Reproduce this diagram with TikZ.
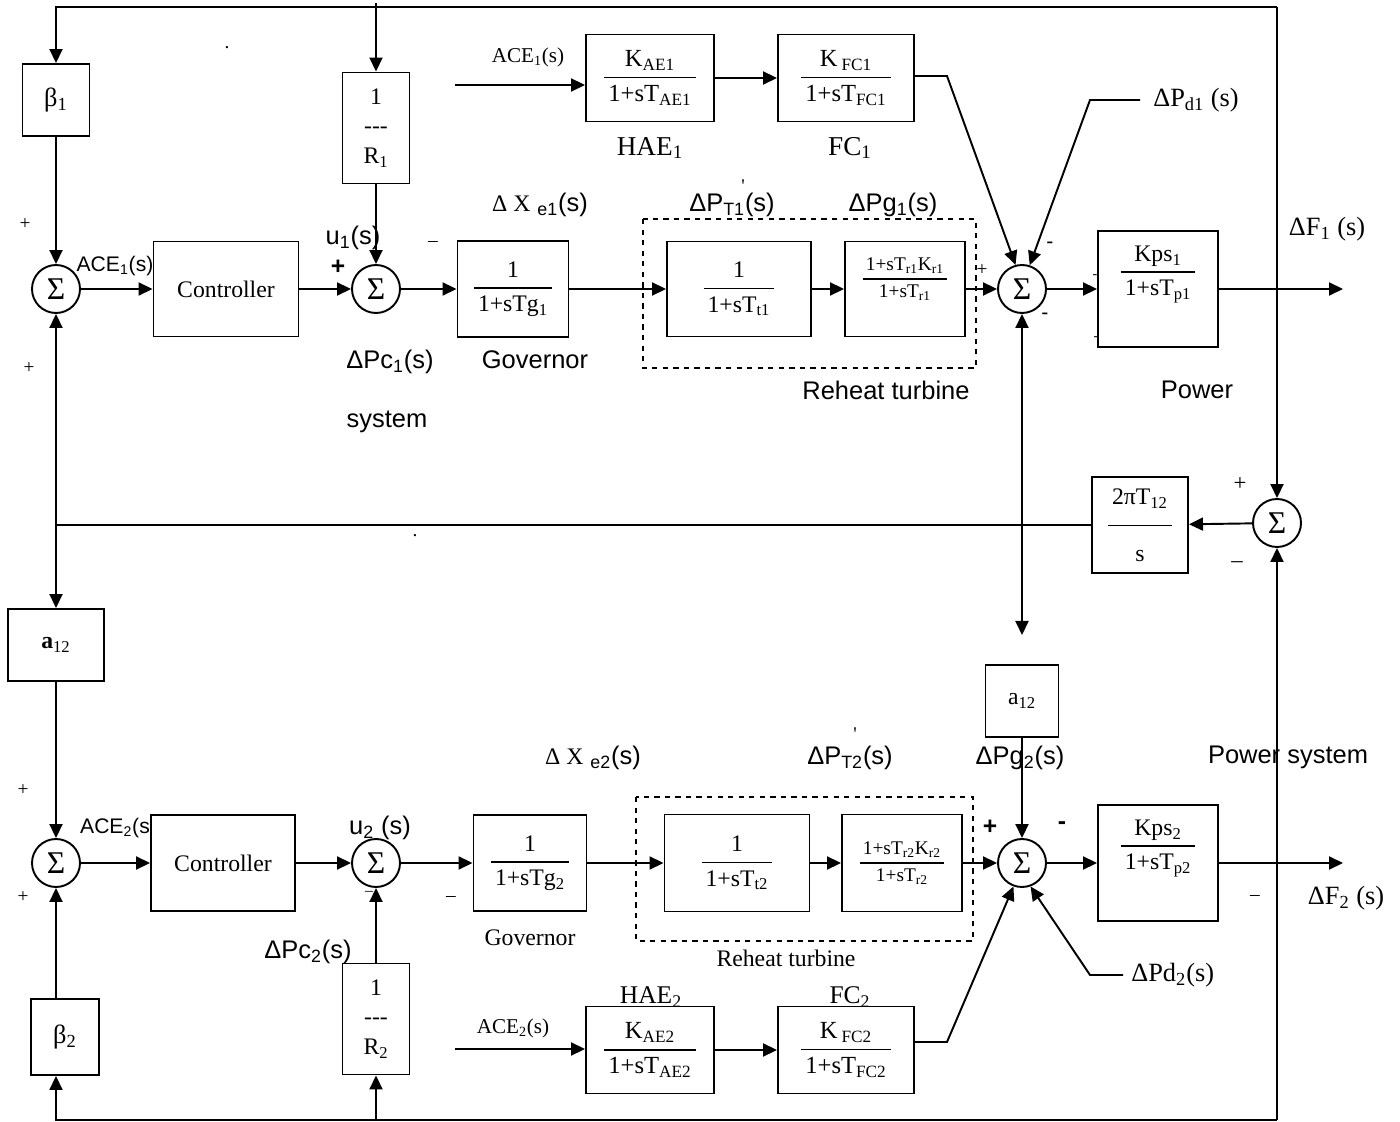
\documentclass[tikz,border=0pt]{standalone}
\usepackage{amsmath}
\usepackage{fontspec}
\setmainfont{Liberation Serif}
\setsansfont{Liberation Sans}
\usepackage{tikz}
\usetikzlibrary{arrows.meta}

\newcommand{\blkfrac}[2]{$\genfrac{}{}{0.9pt}{0}{\hbox{\,#1\,}}{\hbox{\,#2\,}}$}

\begin{document}
\begin{tikzpicture}[x=0.2mm, y=-0.2mm, >={Triangle[length=2.8mm, width=2.6mm]},
    block/.style={rectangle, draw, line width=1.1pt, fill=white, inner sep=0pt, align=center, font=\fontsize{13.5}{17}\selectfont},
    summer/.style={circle, draw, line width=1.1pt, fill=white, minimum size=9.6mm, inner sep=0pt, font=\fontsize{18}{18}\selectfont},
    arrow/.style={line width=1.1pt, ->},
    wire/.style={line width=1.1pt},
    tie/.style={line width=0.6pt},
    dashbox/.style={dashed, line width=0.8pt},
    slbl/.style={inner sep=0pt, font=\sffamily\fontsize{14.5}{16}\selectfont},
    rlbl/.style={inner sep=0pt, font=\fontsize{14.5}{16}\selectfont},
    signlbl/.style={inner sep=0pt, font=\fontsize{11}{12}\selectfont},
    boldsign/.style={inner sep=0pt, font=\sffamily\bfseries\fontsize{14}{16}\selectfont}]

    \useasboundingbox (0,0) rectangle (1400,1122);

    % Turbine frames
    \draw[dashbox] (643,219) rectangle (976,368);
    \draw[dashbox] (636,797) rectangle (973,941);

    % Labels hidden partly behind blocks
    \node[rlbl] (hae2_lbl) at (651,997) {HAE\textsubscript{2}};
    \node[rlbl] (fc2_lbl) at (850,997) {FC\textsubscript{2}};

    % Nodes, area 1
    \node[block, minimum width=13.4mm, minimum height=14.4mm, font=\fontsize{15}{17}\selectfont] (beta1) at (56,100) {β\textsubscript{1}};
    \node[summer] (sum1) at (56,289) {Σ};
    \node[block, minimum width=29mm, minimum height=19mm] (ctrl1) at (226,289) {Controller};
    \node[block, minimum width=13.4mm, minimum height=22.2mm] (r1) at (376,128) {1\\{-}{-}{-}\\R\textsubscript{1}};
    \node[summer] (sumu1) at (376,289) {Σ};
    \node[block, minimum width=22.2mm, minimum height=19.2mm] (gov1) at (513,289) {\blkfrac{1}{1+sTg\textsubscript{1}}};
    \node[block, minimum width=28.8mm, minimum height=19mm] (turb1) at (739,289) {\blkfrac{1}{1+sT\textsubscript{t1}}};
    \node[block, minimum width=24mm, minimum height=19mm, font=\fontsize{11}{13}\selectfont] (reheat1) at (905,289) {\raisebox{3pt}[0pt][0pt]{\blkfrac{1+sT\textsubscript{r1}K\textsubscript{r1}}{1+sT\textsubscript{r1}}}};
    \node[summer] (sum3) at (1022,289) {Σ};
    \node[block, minimum width=24mm, minimum height=23.2mm] (kps1) at (1158,289) {\raisebox{6pt}[0pt][0pt]{\blkfrac{Kps\textsubscript{1}}{1+sT\textsubscript{p1}}}};
    \node[block, minimum width=25.6mm, minimum height=17.4mm, font=\fontsize{14}{17}\selectfont] (hae1) at (650,78) {\blkfrac{K\textsubscript{AE1}}{1+sT\textsubscript{AE1}}};
    \node[block, minimum width=27.2mm, minimum height=17.4mm, font=\fontsize{14}{17}\selectfont] (fc1) at (846,78) {\blkfrac{K\,\textsubscript{FC1}}{1+sT\textsubscript{FC1}}};

    % Tie line
    \node[summer] (sum4) at (1277,523) {Σ};
    \node[block, minimum width=19.2mm, minimum height=19.2mm] (tiegain) at (1140,525) {\blkfrac{2πT\textsubscript{12}\rule[-9pt]{0pt}{0pt}}{\rule{0pt}{17pt}s}};
    \node[block, minimum width=19.2mm, minimum height=14.4mm] (a12l) at (56,645) {\textbf{a}\textsubscript{12}};
    \node[block, minimum width=14.6mm, minimum height=14.4mm] (a12r) at (1022,701) {a\textsubscript{12}};

    % Nodes, area 2
    \node[summer] (sum5) at (56,863) {Σ};
    \node[block, minimum width=13.6mm, minimum height=15.2mm, font=\fontsize{15}{17}\selectfont] (beta2) at (65,1037) {β\textsubscript{2}};
    \node[block, minimum width=28.8mm, minimum height=19.2mm] (ctrl2) at (223,863) {Controller};
    \node[summer] (sumu2) at (376,863) {Σ};
    \node[block, minimum width=13.4mm, minimum height=22.2mm] (r2) at (376,1019) {1\\{-}{-}{-}\\R\textsubscript{2}};
    \node[block, minimum width=22.6mm, minimum height=19.2mm] (gov2) at (530,863) {\blkfrac{1}{1+sTg\textsubscript{2}}};
    \node[block, minimum width=29mm, minimum height=19.4mm] (turb2) at (737,863) {\blkfrac{1}{1+sT\textsubscript{t2}}};
    \node[block, minimum width=24mm, minimum height=19.4mm, font=\fontsize{11}{13}\selectfont] (reheat2) at (902,863) {\blkfrac{1+sT\textsubscript{r2}K\textsubscript{r2}}{1+sT\textsubscript{r2}}};
    \node[summer] (sum7) at (1022,863) {Σ};
    \node[block, minimum width=24mm, minimum height=23.2mm] (kps2) at (1158,863) {\raisebox{6pt}[0pt][0pt]{\blkfrac{Kps\textsubscript{2}}{1+sT\textsubscript{p2}}}};
    \node[block, minimum width=25.6mm, minimum height=17.4mm, font=\fontsize{14}{17}\selectfont] (hae2) at (650,1050) {\blkfrac{K\textsubscript{AE2}}{1+sT\textsubscript{AE2}}};
    \node[block, minimum width=27.2mm, minimum height=17.4mm, font=\fontsize{14}{17}\selectfont] (fc2) at (846,1050) {\blkfrac{K\,\textsubscript{FC2}}{1+sT\textsubscript{FC2}}};

    % Disturbance inputs
    \node[rlbl, font=\fontsize{15}{17}\selectfont, anchor=west] (pd1) at (1153,100) {ΔP\textsubscript{d1} (s)};
    \node[rlbl, font=\fontsize{15}{17}\selectfont, anchor=west] (pd2) at (1131,975) {ΔPd\textsubscript{2}(s)};

    % Free ends
    \coordinate (top_l) at (56,7);
    \coordinate (top_r) at (1277,7);
    \coordinate (r1_in) at (376,3);
    \coordinate (bot_r) at (1277,1120);
    \coordinate (tie_j) at (56,525);
    \coordinate (a12r_in) at (1022,635);
    \coordinate (out1) at (1343,289);
    \coordinate (out2) at (1343,863);
    \coordinate (ace1_in) at (455,85);
    \coordinate (ace2_in) at (455,1049);
    \coordinate (fc1_bend) at (947,76);
    \coordinate (fc2_bend) at (947,1042);
    \coordinate (pd1_bend) at (1090,100);
    \coordinate (pd2_bend) at (1090,975);

    % Flows, area 1
    \draw[arrow] (top_r) -- (top_l) -- (beta1);
    \draw[arrow] (top_r) -- (sum4);
    \draw[arrow] (r1_in) -- (r1);
    \draw[arrow] (beta1) -- (sum1);
    \draw[arrow] (sum1) -- (ctrl1);
    \draw[arrow] (ctrl1) -- (sumu1);
    \draw[arrow] (r1) -- (sumu1);
    \draw[arrow] (sumu1) -- (gov1);
    \draw[arrow] (gov1) -- (turb1);
    \draw[arrow] (turb1) -- (reheat1);
    \draw[arrow] (reheat1) -- (sum3);
    \draw[arrow] (sum3) -- (kps1);
    \draw[arrow] (kps1) -- (out1);
    \draw[arrow] (ace1_in) -- (ace1_in -| hae1.west);
    \draw[arrow] (hae1) -- (fc1);
    \draw[arrow] (fc1.east |- fc1_bend) -- (fc1_bend) -- (sum3.105);
    \draw[arrow, shorten <=2.6mm] (pd1.west) -- (pd1_bend) -- (sum3.72);

    % Tie-line flows
    \draw[arrow] (sum4) -- (tiegain);
    \draw[tie] (tiegain) -- (tie_j);
    \draw[arrow] (tie_j) -- (sum1);
    \draw[arrow] (tie_j) -- (a12l);
    \draw[arrow] (a12l) -- (sum5);
    \draw[wire, <->] (sum3) -- (a12r_in);
    \draw[arrow] (a12r) -- (sum7);

    % Flows, area 2
    \draw[arrow] (bot_r) -- (sum4);
    \draw[arrow] (bot_r) -| (beta2.south -| sum5);
    \draw[arrow] (r2 |- bot_r) -- (r2);
    \draw[arrow] (beta2.north -| sum5) -- (sum5);
    \draw[arrow] (sum5) -- (ctrl2);
    \draw[arrow] (ctrl2) -- (sumu2);
    \draw[arrow] (r2) -- (sumu2);
    \draw[arrow] (sumu2) -- (gov2);
    \draw[arrow] (gov2) -- (turb2);
    \draw[arrow] (turb2) -- (reheat2);
    \draw[arrow] (reheat2) -- (sum7);
    \draw[arrow] (sum7) -- (kps2);
    \draw[arrow] (kps2) -- (out2);
    \draw[arrow] (ace2_in) -- (ace2_in -| hae2.west);
    \draw[arrow] (hae2) -- (fc2);
    \draw[arrow] (fc2.east |- fc2_bend) -- (fc2_bend) -- (sum7.250);
    \draw[arrow, shorten <=1.6mm] (pd2.west) -- (pd2_bend) -- (sum7.290);

    % Labels, area 1
    \node[rlbl, font=\fontsize{12}{14}\selectfont] (ace1_lbl) at (528,57) {ACE\textsubscript{1}(s)};
    \node[rlbl, font=\fontsize{15.5}{17}\selectfont] (hae1_lbl) at (650,148) {HAE\textsubscript{1}};
    \node[rlbl, font=\fontsize{15.5}{17}\selectfont] (fc1_lbl) at (850,148) {FC\textsubscript{1}};
    \node[rlbl, font=\fontsize{15}{17}\selectfont] (df1_lbl) at (1327,229) {ΔF\textsubscript{1} (s)};
    \node[slbl] (xe1_lbl) at (540,205) {{\rmfamily\fontsize{13.5}{15}\selectfont Δ X} \textsubscript{e1}(s)};
    \node[slbl] (pt1_lbl) at (732,205) {ΔP\textsubscript{T1}(s)};
    \node[signlbl] (pt1_tick) at (743,186) {\textquotesingle};
    \node[slbl] (pg1_lbl) at (893,205) {ΔPg\textsubscript{1}(s)};
    \node[slbl] (u1_lbl) at (353,238) {u\textsubscript{1}(s)};
    \node[slbl, font=\sffamily\fontsize{12}{14}\selectfont] (ace1s_lbl) at (115,266) {ACE\textsubscript{1}(s)};
    \node[slbl] (pc1_lbl) at (390,362) {ΔPc\textsubscript{1}(s)};
    \node[slbl] (gov1_lbl) at (535,360) {Governor};
    \node[slbl] (sys_lbl) at (387,422) {system};
    \node[slbl] (rt1_lbl) at (886,390) {Reheat turbine};
    \node[slbl] (pow1_lbl) at (1197,390) {Power};
    \node[signlbl] (s1a) at (25,224) {+};
    \node[signlbl] (s1b) at (29,368) {+};
    \node[boldsign] (s2a) at (338,267) {+};
    \node[signlbl] (s2b) at (433,244) {–};
    \node[signlbl] (s3a) at (982,270) {+};
    \node[boldsign, font=\sffamily\fontsize{12}{14}\selectfont] (s3b) at (1050,245) {-};
    \node[boldsign, font=\sffamily\fontsize{12}{14}\selectfont] (s3c) at (1045,316) {-};
    \node[signlbl, font=\fontsize{8}{9}\selectfont] (s3d) at (1095,277) {-};
    \node[signlbl, font=\fontsize{8}{9}\selectfont] (s3e) at (1096,339) {-};
    \node[signlbl, font=\fontsize{13}{14}\selectfont] (s4a) at (1240,484) {+};
    \node[signlbl, font=\fontsize{13}{14}\selectfont] (s4b) at (1237,565) {–};
    \node[signlbl] (dot1) at (227,48) {.};
    \node[signlbl] (dot2) at (415,536) {.};

    % Labels, area 2
    \node[signlbl] (s5a) at (23,790) {+};
    \node[signlbl] (s5b) at (23,897) {+};
    \node[slbl, font=\sffamily\fontsize{12}{14}\selectfont] (ace2s_lbl) at (115,828) {ACE\textsubscript{2}(s};
    \node[slbl] (u2_lbl) at (380,828) {u\textsubscript{2} (s)};
    \node[signlbl, font=\fontsize{9}{10}\selectfont] (s6a) at (369,893) {–};
    \node[signlbl] (s6b) at (451,899) {–};
    \node[slbl] (pc2_lbl) at (308,952) {ΔPc\textsubscript{2}(s)};
    \node[rlbl, font=\fontsize{13.5}{16}\selectfont] (gov2_lbl) at (530,938) {Governor};
    \node[rlbl, font=\fontsize{13.5}{16}\selectfont] (rt2_lbl) at (786,958) {Reheat turbine};
    \node[slbl] (xe2_lbl) at (593,758) {{\rmfamily\fontsize{13.5}{15}\selectfont Δ X} \textsubscript{e2}(s)};
    \node[slbl] (pt2_lbl) at (850,758) {ΔP\textsubscript{T2}(s)};
    \node[signlbl] (pt2_tick) at (855,734) {\textquotesingle};
    \node[slbl] (pg2_lbl) at (1020,758) {ΔPg\textsubscript{2}(s)};
    \node[slbl] (pow2_lbl) at (1288,757) {Power system};
    \node[boldsign] (s7a) at (990,827) {+};
    \node[boldsign] (s7b) at (1062,826) {-};
    \node[signlbl] (s8a) at (1255,898) {–};
    \node[rlbl, font=\fontsize{15}{17}\selectfont] (df2_lbl) at (1346,898) {ΔF\textsubscript{2} (s)};
    \node[rlbl, font=\fontsize{12}{14}\selectfont] (ace2_lbl) at (513,1028) {ACE\textsubscript{2}(s)};
\end{tikzpicture}
\end{document}
